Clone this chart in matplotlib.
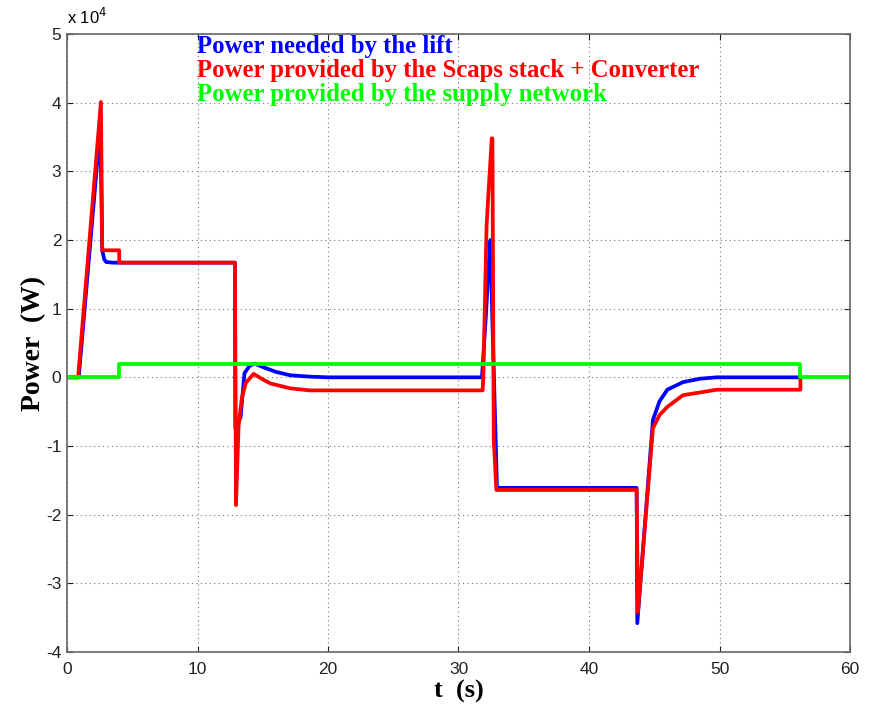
import matplotlib
matplotlib.use("Agg")
import matplotlib.pyplot as plt
import numpy as np

# Power needed by the lift (x1e4 W)
t_lift = [0, 0.9, 2.45, 2.6, 2.7, 2.85, 3.0, 3.5, 12.87, 12.9, 13.0, 13.3, 13.6, 14.0, 14.4,
          15.0, 16.0, 17.1, 18.6, 20.0, 31.8, 32.1, 32.3, 32.45, 32.6, 32.95, 43.65, 43.7,
          44.9, 45.4, 46.0, 47.2, 48.5, 49.8, 56.2]
p_lift = [0, 0, 3.43, 3.1, 1.85, 1.72, 1.68, 1.67, 1.67, -0.74, -0.72, -0.58, 0.06, 0.17, 0.2,
          0.15, 0.08, 0.03, 0.01, 0.0, 0.0, 0.9, 1.6, 2.0, 0.8, -1.61, -1.61, -3.58,
          -0.62, -0.35, -0.18, -0.07, -0.02, 0.0, 0.0]

# Power provided by the Scaps stack + Converter (x1e4 W)
t_scaps = [0, 0.85, 2.6, 2.7, 4.0, 4.0, 12.87, 12.95, 13.15, 13.4, 13.7, 14.3, 15.0, 15.6,
           17.1, 18.6, 20.0, 31.85, 31.9, 32.15, 32.3, 32.55, 32.6, 32.7, 32.9, 43.65, 43.75,
           44.9, 45.4, 46.0, 47.2, 49.8, 52.3, 56.2, 56.2]
p_scaps = [0, 0, 4.01, 1.85, 1.85, 1.67, 1.67, -1.86, -0.7, -0.3, -0.08, 0.05, -0.03, -0.09,
           -0.16, -0.19, -0.19, -0.19, 0.0, 2.2, 2.7, 3.48, 3.48, -0.9, -1.64, -1.64, -3.42,
           -0.74, -0.55, -0.43, -0.26, -0.18, -0.18, -0.18, 0.0]

# Power provided by the supply network (x1e4 W)
t_net = [0, 4.0, 4.0, 56.2, 56.2, 60]
p_net = [0, 0, 0.19, 0.19, 0, 0]

labels = ["Power needed by the lift",
          "Power provided by the Scaps stack + Converter",
          "Power provided by the supply network"]
colors = ["#0000ff", "#ff0000", "#00ff00"]

xticks = [0, 10, 20, 30, 40, 50, 60]
yticks = [-4, -3, -2, -1, 0, 1, 2, 3, 4, 5]

fig = plt.figure(figsize=(8.69, 7.08), dpi=100)
ax = fig.add_axes([67/869, 1-652/708, (850-67)/869, (652-34)/708])

lw = 2.7
ax.plot(t_lift, p_lift, color=colors[0], lw=lw)
ax.plot(t_scaps, p_scaps, color=colors[1], lw=lw)
ax.plot(t_net, p_net, color=colors[2], lw=lw)

ax.set_xlim(0, 60)
ax.set_ylim(-4, 5)
ax.set_xticks(xticks)
ax.set_yticks(yticks)
ax.set_xticklabels([str(v) for v in xticks], fontsize=12.5, family="Liberation Sans")
ax.set_yticklabels([str(v) for v in yticks], fontsize=12.5, family="Liberation Sans")
ax.tick_params(direction="in", length=4, colors="#222222", top=True, right=True)
ax.tick_params(axis="x", pad=7)
ax.tick_params(axis="y", pad=4)
ax.grid(True, linestyle=(0, (1, 3)), color="#777777", lw=0.8)
for s in ax.spines.values():
    s.set_color("#666666")
    s.set_linewidth(1.2)

ax.set_xlabel("t  (s)", fontsize=19, fontweight="bold", family="Liberation Serif", labelpad=2)
ax.set_ylabel("Power  (W)", fontsize=20, fontweight="bold", family="Liberation Serif", labelpad=0)

fig.text(67/869, 1-24/708, r"x 10$^{4}$", fontsize=12, family="Liberation Sans", va="baseline", ha="left")

for i, (lab, c) in enumerate(zip(labels, colors)):
    ax.text((197-67)/(850-67), (1 - (46 + i*24 - 34)/(652-34)), lab,
            transform=ax.transAxes, color=c, fontsize=17.8, fontweight="bold",
            family="Liberation Serif", va="center", ha="left")

fig.savefig("out.png", dpi=100)
